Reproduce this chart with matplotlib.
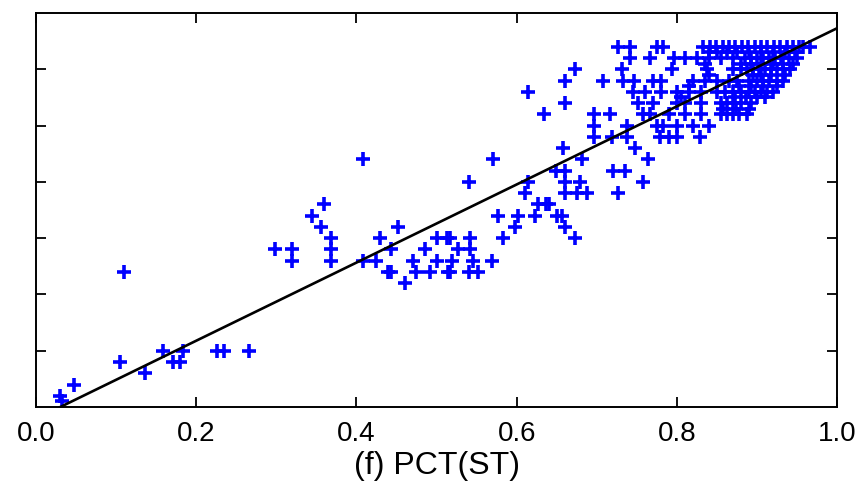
import matplotlib
matplotlib.use("Agg")
import matplotlib.pyplot as plt

# puntos agrupados por nivel de y
levels = [0.1, 0.2, 0.4, 0.6, 0.8, 1.0, 2.2, 2.4, 2.6, 2.8, 3.0, 3.2, 3.4, 3.6,
          3.8, 4.0, 4.2, 4.4, 4.6, 4.8, 5.0, 5.2, 5.3, 5.4, 5.5, 5.6, 5.7, 5.8,
          5.9, 6.0, 6.1, 6.2, 6.3, 6.4]
xs_by_level = [
    [0.033],
    [0.030],
    [0.047],
    [0.136],
    [0.105, 0.171, 0.180],
    [0.159, 0.183, 0.226, 0.235, 0.266],
    [0.461],
    [0.110, 0.439, 0.443, 0.474, 0.492, 0.514, 0.517, 0.540, 0.552],
    [0.320, 0.368, 0.408, 0.425, 0.470, 0.500, 0.519, 0.546, 0.569],
    [0.298, 0.320, 0.368, 0.443, 0.486, 0.527, 0.542],
    [0.368, 0.429, 0.500, 0.513, 0.517, 0.542, 0.583, 0.673],
    [0.356, 0.452, 0.598, 0.660],
    [0.344, 0.577, 0.602, 0.623, 0.650, 0.656],
    [0.359, 0.627, 0.636, 0.640],
    [0.610, 0.660, 0.675, 0.688, 0.727],
    [0.540, 0.614, 0.660, 0.679, 0.758],
    [0.649, 0.660, 0.720, 0.735],
    [0.408, 0.571, 0.681, 0.764],
    [0.658, 0.748],
    [0.696, 0.719, 0.738, 0.779, 0.790, 0.800, 0.829],
    [0.696, 0.738, 0.775, 0.783, 0.800, 0.820, 0.840],
    [0.634, 0.696, 0.717, 0.758, 0.766, 0.790, 0.810, 0.830, 0.855, 0.862, 0.870, 0.878, 0.887],
    [0.858, 0.874, 0.890],
    [0.660, 0.752, 0.770, 0.800, 0.810, 0.830, 0.855, 0.863, 0.870, 0.880, 0.892],
    [0.805, 0.872, 0.886, 0.900, 0.910],
    [0.614, 0.745, 0.760, 0.780, 0.800, 0.815, 0.830, 0.850, 0.860, 0.870, 0.880, 0.890,
     0.898, 0.905, 0.912, 0.920],
    [0.815, 0.878, 0.893, 0.908, 0.925],
    [0.660, 0.708, 0.733, 0.746, 0.770, 0.780, 0.820, 0.835, 0.850, 0.865, 0.875, 0.890,
     0.900, 0.908, 0.915, 0.925, 0.933],
    [0.840, 0.895, 0.905, 0.918, 0.935],
    [0.673, 0.731, 0.794, 0.837, 0.870, 0.880, 0.888, 0.895, 0.903, 0.910, 0.918, 0.925,
     0.933, 0.941],
    [0.835, 0.880, 0.892, 0.905, 0.920, 0.932, 0.945],
    [0.741, 0.766, 0.796, 0.810, 0.825, 0.840, 0.855, 0.870, 0.885, 0.893, 0.900, 0.908,
     0.915, 0.922, 0.930, 0.940, 0.950],
    [0.840, 0.850, 0.862, 0.875, 0.890, 0.905, 0.920, 0.935, 0.948],
    [0.727, 0.742, 0.775, 0.783, 0.833, 0.841, 0.849, 0.857, 0.865, 0.873, 0.881, 0.889,
     0.897, 0.905, 0.913, 0.921, 0.929, 0.937, 0.945, 0.952, 0.958, 0.966],
]

# recta de ajuste
fit_x = [0.03, 1.0]
slope = 6.94
intercept = -0.21

x_ticks = [0.0, 0.2, 0.4, 0.6, 0.8, 1.0]
x_labels = ["0.0", "0.2", "0.4", "0.6", "0.8", "1.0"]
y_ticks = [1, 2, 3, 4, 5, 6]

plt.rcParams["font.family"] = ["Liberation Sans", "DejaVu Sans"]

xs = []
ys = []
for lv, row in zip(levels, xs_by_level):
    for v in row:
        xs.append(v)
        ys.append(lv)

fig = plt.figure(figsize=(8.63, 4.91), dpi=100)
ax = fig.add_axes([0.0417, 0.171, 0.9283, 0.8025])

ax.plot(xs, ys, linestyle="none", marker="+", ms=10, mew=2.6, color="#0000ff", zorder=2)
fit_y = [slope * v + intercept for v in fit_x]
ax.plot(fit_x, fit_y, color="black", lw=1.9, zorder=3)

ax.set_xlim(0, 1)
ax.set_ylim(0, 7)
ax.set_xticks(x_ticks)
ax.set_xticklabels(x_labels)
ax.set_yticks(y_ticks)
ax.set_yticklabels([])
ax.tick_params(direction="in", length=7, width=1.3, top=True, right=True,
               labelsize=20, pad=10)
for s in ax.spines.values():
    s.set_linewidth(1.4)
ax.set_xlabel("(f) PCT(ST)", fontsize=23, labelpad=3)

fig.savefig("out.png", dpi=100)
